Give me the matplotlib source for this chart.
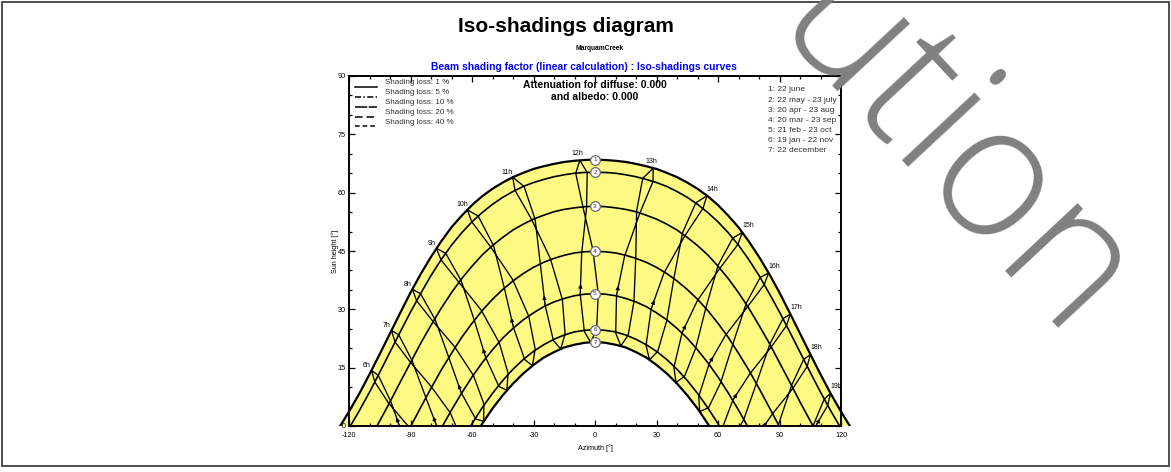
import numpy as np
import matplotlib
matplotlib.use('Agg')
import matplotlib.pyplot as plt
from matplotlib.patches import Rectangle
from matplotlib.lines import Line2D

plt.rcParams['axes.unicode_minus'] = False

# ---------------- data ----------------
AZ_GRID = list(range(-130, 131, 5))
EL_1 = [-4.5, -0.6, 3.7, 8.3, 13.3, 18.5, 23.8, 29.1, 34.3, 39.1, 43.5, 47.5, 51.1, 54.1, 56.8, 59.1, 61.0, 62.6, 64.0, 65.1, 66.1, 66.8, 67.4, 67.9, 68.2, 68.4,
        68.5, 68.4, 68.2, 67.9, 67.4, 66.8, 66.1, 65.1, 64.0, 62.6, 61.0, 59.1, 56.8, 54.1, 51.1, 47.5, 43.5, 39.1, 34.3, 29.1, 23.8, 18.5, 13.3, 8.3, 3.7, -0.6, -4.5]
EL_2 = [-8.4, -4.7, -0.6, 3.9, 8.7, 13.8, 19.0, 24.2, 29.3, 34.1, 38.7, 42.8, 46.5, 49.7, 52.5, 54.9, 57.0, 58.8, 60.3, 61.6, 62.6, 63.4, 64.1, 64.6, 65.0, 65.2,
        65.2, 65.2, 65.0, 64.6, 64.1, 63.4, 62.6, 61.6, 60.3, 58.8, 57.0, 54.9, 52.5, 49.7, 46.5, 42.8, 38.7, 34.1, 29.3, 24.2, 19.0, 13.8, 8.7, 3.9, -0.6, -4.7, -8.4]
EL_3 = [-19.0, -15.7, -12.0, -7.9, -3.4, 1.3, 6.2, 11.3, 16.3, 21.3, 25.9, 30.3, 34.3, 37.9, 41.1, 44.0, 46.4, 48.5, 50.4, 51.9, 53.2, 54.2, 55.1, 55.7, 56.1, 56.4,
        56.5, 56.4, 56.1, 55.7, 55.1, 54.2, 53.2, 51.9, 50.4, 48.5, 46.4, 44.0, 41.1, 37.9, 34.3, 30.3, 25.9, 21.3, 16.3, 11.3, 6.2, 1.3, -3.4, -7.9, -12.0, -15.7, -19.0]
EL_4 = [-32.9, -30.0, -26.7, -23.0, -19.0, -14.7, -10.0, -5.1, -0.2, 4.8, 9.7, 14.4, 18.7, 22.8, 26.4, 29.7, 32.6, 35.1, 37.3, 39.2, 40.8, 42.1, 43.1, 43.9, 44.5, 44.8,
        44.9, 44.8, 44.5, 43.9, 43.1, 42.1, 40.8, 39.2, 37.3, 35.1, 32.6, 29.7, 26.4, 22.8, 18.7, 14.4, 9.7, 4.8, -0.2, -5.1, -10.0, -14.7, -19.0, -23.0, -26.7, -30.0, -32.9]
EL_5 = [-45.8, -43.4, -40.5, -37.3, -33.7, -29.6, -25.3, -20.6, -15.6, -10.6, -5.5, -0.6, 4.1, 8.5, 12.6, 16.3, 19.6, 22.6, 25.1, 27.3, 29.1, 30.7, 31.9, 32.8, 33.5, 33.9,
        34.0, 33.9, 33.5, 32.8, 31.9, 30.7, 29.1, 27.3, 25.1, 22.6, 19.6, 16.3, 12.6, 8.5, 4.1, -0.6, -5.5, -10.6, -15.6, -20.6, -25.3, -29.6, -33.7, -37.3, -40.5, -43.4, -45.8]
EL_6 = [-57.0, -55.0, -52.5, -49.7, -46.5, -42.8, -38.7, -34.2, -29.3, -24.2, -19.0, -13.8, -8.7, -3.9, 0.6, 4.7, 8.4, 11.7, 14.6, 17.1, 19.2, 20.9, 22.3, 23.4, 24.2, 24.6,
        24.8, 24.6, 24.2, 23.4, 22.3, 20.9, 19.2, 17.1, 14.6, 11.7, 8.4, 4.7, 0.6, -3.9, -8.7, -13.8, -19.0, -24.2, -29.3, -34.2, -38.7, -42.8, -46.5, -49.7, -52.5, -55.0, -57.0]
EL_7 = [-61.0, -59.0, -56.8, -54.1, -51.0, -47.5, -43.5, -39.0, -34.2, -29.1, -23.8, -18.5, -13.3, -8.3, -3.6, 0.6, 4.5, 7.9, 10.9, 13.5, 15.7, 17.6, 19.0, 20.2, 20.9, 21.4,
        21.6, 21.4, 20.9, 20.2, 19.0, 17.6, 15.7, 13.5, 10.9, 7.9, 4.5, 0.6, -3.6, -8.3, -13.3, -18.5, -23.8, -29.1, -34.2, -39.0, -43.5, -47.5, -51.0, -54.1, -56.8, -59.0, -61.0]
DATE_LABELS = ['1: 22 june', '2: 22 may - 23 july', '3: 20 apr - 23 aug', '4: 20 mar - 23 sep',
               '5: 21 feb - 23 oct', '6: 19 jan - 22 nov', '7: 22 december']

# hour lines: points on 22 dec, 19 jan, 21 feb, 20 mar, 20 apr, 22 may, 22 jun,
#             23 jul, 23 aug, 23 sep, 23 oct, 22 nov, 22 dec
HOUR_LABELS = ['6h', '7h', '8h', '9h', '10h', '11h', '12h', '13h', '14h', '15h', '16h', '17h', '18h', '19h']
HOUR_AZ = [
    [-74.4, -78.6, -86.5, -93.0, -99.6, -105.7, -109.0, -107.4, -100.7, -90.7, -81.1, -75.1, -74.4],
    [-64.6, -68.6, -76.1, -82.3, -89.2, -95.7, -99.3, -97.5, -90.2, -80.0, -70.6, -65.0, -64.6],
    [-54.3, -58.2, -65.2, -71.1, -78.0, -85.1, -89.1, -87.0, -79.2, -68.5, -59.3, -54.2, -54.3],
    [-43.0, -46.9, -53.3, -58.7, -65.3, -72.8, -77.4, -75.1, -66.6, -55.5, -46.7, -42.4, -43.0],
    [-30.5, -34.3, -39.8, -44.1, -49.5, -57.0, -62.3, -60.1, -51.1, -40.2, -32.3, -29.2, -30.5],
    [-16.7, -20.3, -24.3, -26.6, -29.2, -34.6, -40.2, -39.0, -31.0, -21.8, -15.9, -14.6, -16.7],
    [-2.1, -5.2, -7.2, -6.5, -4.1, -3.8, -7.4, -9.4, -6.0, -1.0, 1.6, 0.8, -2.1],
    [12.6, 10.1, 10.5, 14.4, 21.7, 28.3, 28.4, 23.3, 20.3, 19.9, 19.0, 16.2, 12.6],
    [26.6, 24.9, 27.4, 33.6, 43.7, 52.7, 54.6, 49.2, 42.7, 38.6, 35.0, 30.6, 26.6],
    [39.5, 38.5, 42.5, 49.9, 60.7, 69.7, 71.9, 67.2, 60.1, 54.2, 49.1, 43.7, 39.5],
    [51.1, 50.6, 55.7, 63.6, 74.3, 82.6, 84.7, 80.6, 73.8, 67.4, 61.4, 55.4, 51.1],
    [61.7, 61.6, 67.3, 75.5, 85.8, 93.4, 95.3, 91.7, 85.4, 78.9, 72.5, 66.0, 61.7],
    [71.6, 71.8, 78.1, 86.4, 96.4, 103.5, 105.1, 101.8, 96.0, 89.7, 83.0, 76.1, 71.6],
    [81.3, 81.7, 88.5, 97.0, 106.8, 113.5, 114.9, 111.8, 106.5, 100.4, 93.6, 86.2, 81.3],
]
HOUR_EL = [
    [-17.8, -17.9, -11.9, -3.6, 6.3, 13.0, 14.3, 11.3, 5.9, -0.3, -6.9, -13.4, -17.8],
    [-7.9, -7.7, -1.5, 7.0, 16.8, 23.4, 24.6, 21.6, 16.5, 10.2, 3.4, -3.5, -7.9],
    [1.2, 1.8, 8.5, 17.3, 27.4, 34.0, 35.2, 32.2, 27.0, 20.4, 13.0, 5.7, 1.2],
    [9.2, 10.2, 17.6, 26.9, 37.4, 44.4, 45.7, 42.7, 37.1, 29.8, 21.4, 13.6, 9.2],
    [15.5, 17.1, 25.4, 35.2, 46.4, 54.0, 55.6, 52.5, 46.2, 37.7, 28.2, 19.8, 15.5],
    [19.8, 22.0, 31.0, 41.3, 53.1, 61.6, 64.0, 60.6, 53.2, 43.1, 32.5, 23.7, 19.8],
    [21.5, 24.3, 33.9, 44.4, 56.2, 65.2, 68.3, 65.0, 56.6, 45.2, 33.9, 25.0, 21.5],
    [20.6, 23.9, 33.6, 43.6, 54.5, 62.9, 66.3, 63.7, 55.3, 43.5, 32.0, 23.4, 20.6],
    [17.0, 20.7, 30.1, 39.3, 48.8, 56.0, 59.2, 57.4, 49.7, 38.3, 27.1, 19.2, 17.0],
    [11.2, 15.1, 24.0, 32.2, 40.4, 46.7, 49.8, 48.3, 41.4, 30.6, 20.0, 12.8, 11.2],
    [3.7, 7.6, 16.0, 23.3, 30.6, 36.4, 39.4, 38.2, 31.6, 21.3, 11.3, 4.7, 3.7],
    [-5.1, -1.2, 6.7, 13.4, 20.2, 25.8, 28.8, 27.6, 21.2, 11.2, 1.6, -4.5, -5.1],
    [-14.9, -10.9, -3.4, 3.0, 9.6, 15.3, 18.4, 17.1, 10.6, 0.7, -8.8, -14.5, -14.9],
    [-25.2, -21.2, -13.9, -7.6, -0.8, 5.3, 8.4, 6.9, 0.2, -9.9, -19.4, -25.0, -25.2],
]
LEGEND_LABELS = ['Shading loss: 1 %', 'Shading loss: 5 %', 'Shading loss: 10 %', 'Shading loss: 20 %', 'Shading loss: 40 %']

# ---------------- figure ----------------
W, H = 1171, 472
fig = plt.figure(figsize=(W/100, H/100), dpi=100)
fx = lambda p: p / W
fy = lambda p: 1 - p / H
FONT = 'Liberation Sans'

ax = fig.add_axes([fx(349), fy(426), fx(841 - 349), (426 - 76) / H])
ax.set_xlim(-120, 120)
ax.set_ylim(0, 90)
clip = Rectangle((-135, 0), 270, 90, transform=ax.transData, visible=False)
ax.add_patch(clip)

DATE_EL = [EL_1, EL_2, EL_3, EL_4, EL_5, EL_6, EL_7]
YEL = '#fdfa84'
fill = ax.fill_between(AZ_GRID, EL_7, EL_1, color=YEL, lw=0, zorder=1)
fill.set_clip_path(clip)
for i, el in enumerate(DATE_EL):
    lw = 1.6 if i in (0, 6) else 1.2
    ln, = ax.plot(AZ_GRID, el, color='black', lw=lw, zorder=3, solid_capstyle='butt')
    ln.set_clip_path(clip)

for lab, a, e in zip(HOUR_LABELS, HOUR_AZ, HOUR_EL):
    a = np.asarray(a); e = np.asarray(e)
    ln, = ax.plot(a, e, color='black', lw=0.95, zorder=2)
    ln.set_clip_path(clip)
    if a[6] < -20:
        off = (-5, 5)
    elif a[6] < 40:
        off = (-2, 7)
    else:
        off = (5.5, 6.5)
    ax.annotate(lab, (a[6], e[6]), xytext=off, textcoords='offset pixels',
                ha='center', va='center', fontsize=5, family=FONT, zorder=5)
    # direction arrow on the january -> june branch
    if e[2] > 0:
        s = np.array([a[2], e[2]]); p1 = np.array([a[3], e[3]])
        t = s + 0.25 * (p1 - s)
    else:
        j = next(j for j in range(0, 6) if e[j] <= 0 < e[j + 1])
        p0 = np.array([a[j], e[j]]); p1 = np.array([a[j + 1], e[j + 1]])
        s = p0 + (-e[j] / (e[j + 1] - e[j])) * (p1 - p0)
        t = s + 0.35 * (p1 - s)
    ax.annotate('', xy=t, xytext=s,
                arrowprops=dict(arrowstyle='-|>', color='black', lw=0.6, mutation_scale=6,
                                shrinkA=0, shrinkB=0), zorder=4)

mid = AZ_GRID.index(0)
for i, el in enumerate(DATE_EL):
    ax.plot(0, el[mid], 'o', ms=7, mfc='white', mec='#6a6a6a', mew=0.9, zorder=6)
    ax.text(0, el[mid], str(i + 1), fontsize=4.6, ha='center', va='center', zorder=7, family=FONT, color='#333333')

ax.set_xticks(range(-120, 121, 30))
ax.set_xticks(range(-120, 121, 10), minor=True)
ax.set_yticks(range(0, 91, 15))
ax.set_yticks(range(0, 91, 5), minor=True)
ax.tick_params(which='both', direction='in', top=True, right=True, labelsize=5.2, width=0.9)
ax.tick_params(axis='x', which='both', pad=4)
ax.tick_params(axis='y', which='both', pad=2.5)
ax.tick_params(which='major', length=4.5)
ax.tick_params(which='minor', length=2.5)
for lab in ax.get_xticklabels() + ax.get_yticklabels():
    lab.set_family(FONT)
for s in ax.spines.values():
    s.set_linewidth(1.4)
ax.set_xlabel('Azimuth [°]', fontsize=5.2, family=FONT, labelpad=4)
ax.set_ylabel('Sun height [°]', fontsize=5.2, family=FONT, labelpad=-1)

fig.text(fx(566), fy(26), 'Iso-shadings diagram', fontsize=15, weight='bold', family=FONT, ha='center', va='center')
fig.text(fx(600), fy(49), 'MarquamCreek', fontsize=4.8, weight='bold', family=FONT, ha='center', va='center')
fig.text(fx(584), fy(67), 'Beam shading factor (linear calculation) : Iso-shadings curves', fontsize=7.4,
         weight='bold', family=FONT, color='blue', ha='center', va='center')
fig.text(fx(595), fy(85), 'Attenuation for diffuse: 0.000', fontsize=7.5, weight='bold', family=FONT, ha='center', va='center')
fig.text(fx(595), fy(97), 'and albedo: 0.000', fontsize=7.5, weight='bold', family=FONT, ha='center', va='center')

styles = ['-', (0, (4, 1.5, 1, 1.5)), (0, (8, 1)), (0, (5, 2.5)), (0, (3, 2))]
for t, st, y in zip(LEGEND_LABELS, styles, [83, 93, 103, 113, 122]):
    fig.add_artist(Line2D([fx(355), fx(377)], [fy(y + 4), fy(y + 4)], color='black', lw=1.1, ls=st))
    fig.text(fx(385), fy(y), t, fontsize=5.8, family=FONT, va='center', color='#333333')
for t, y in zip(DATE_LABELS, [90, 100, 110, 120, 131, 141, 150]):
    fig.text(fx(768), fy(y), t, fontsize=6.0, family=FONT, va='center', color='#333333')

fig.add_artist(Rectangle((fx(1.5), fy(466)), fx(1167), (466 - 1.5) / H, fill=False, ec='#404040', lw=1.3))
fig.text(fx(768), fy(34), 'ution', rotation=-47, rotation_mode='anchor', ha='left', va='baseline',
         fontsize=134, family='Open Sans', weight='light', color='#808080', zorder=100)
fig.savefig('out.png', dpi=100)
